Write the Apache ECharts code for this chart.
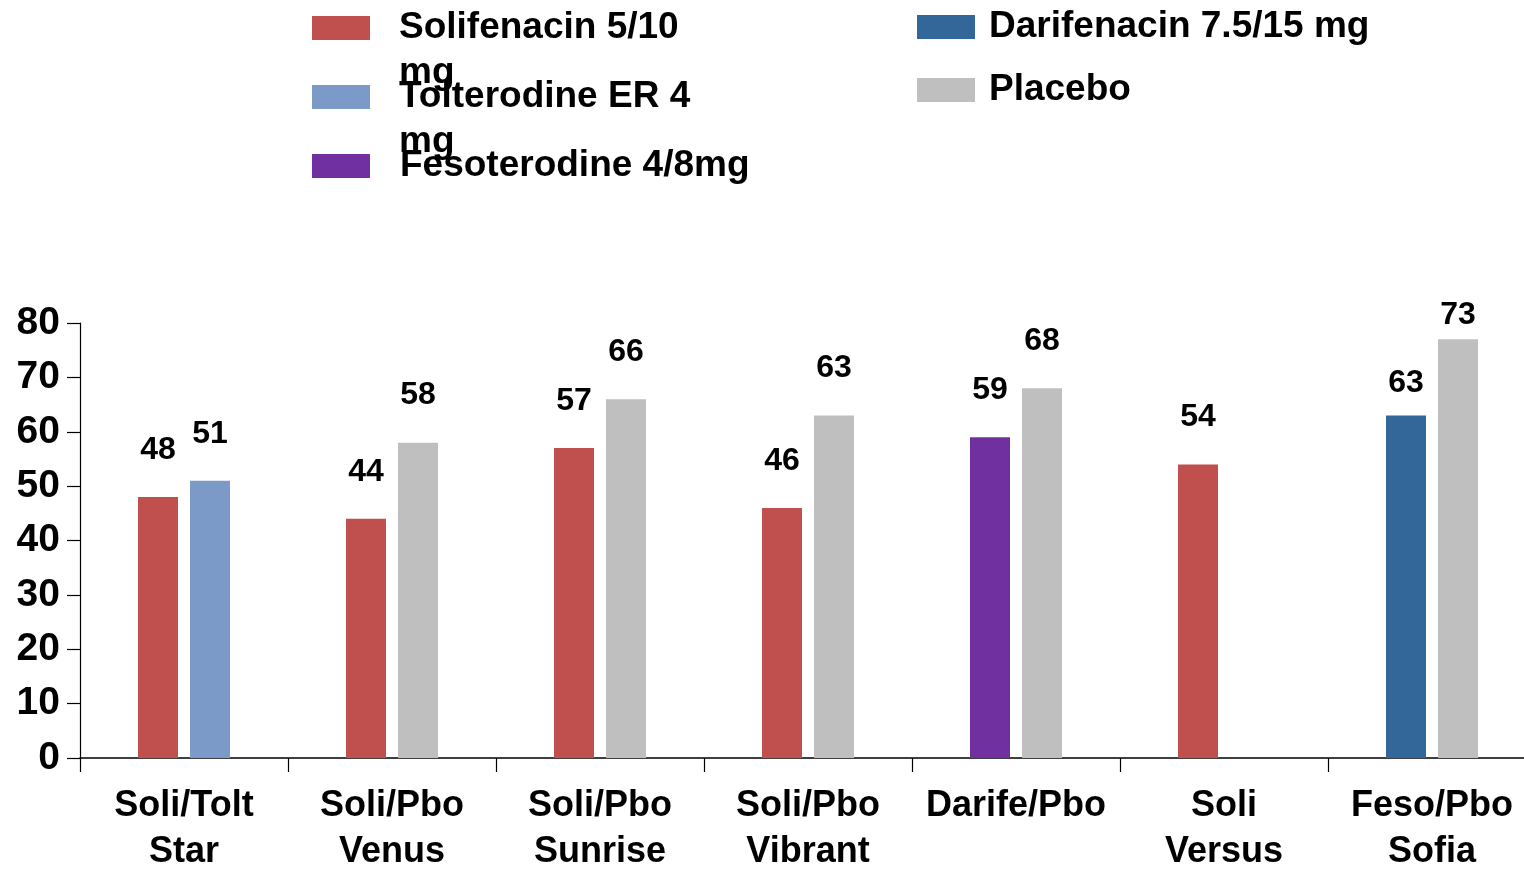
<!DOCTYPE html>
<html>
<head>
<meta charset="utf-8">
<script src="https://cdn.jsdelivr.net/npm/echarts@6/dist/echarts.min.js"></script>
<style>
html,body{margin:0;padding:0;background:#fff;}
#chart{width:1524px;height:871px;}
</style>
</head>
<body>
<div id="chart"></div>
<script>
// ---- data ----
const categories = ['Soli/Tolt\nStar', 'Soli/Pbo\nVenus', 'Soli/Pbo\nSunrise', 'Soli/Pbo\nVibrant', 'Darife/Pbo', 'Soli\nVersus', 'Feso/Pbo\nSofia'];
const drugNames = ['Solifenacin 5/10 mg', 'Tolterodine ER 4 mg', 'Fesoterodine 4/8mg', 'Darifenacin 7.5/15 mg', 'Placebo'];
const drugColors = ['#C0504D', '#7B9AC8', '#7030A0', '#336699', '#BFBFBF'];
const firstValues = [48, 44, 57, 46, 59, 54, 63];
const firstLabels = ['48', '44', '57', '46', '59', '54', '63'];
const firstDrugs = ['Solifenacin 5/10 mg', 'Solifenacin 5/10 mg', 'Solifenacin 5/10 mg', 'Solifenacin 5/10 mg', 'Fesoterodine 4/8mg', 'Solifenacin 5/10 mg', 'Darifenacin 7.5/15 mg'];
const secondValues = [51, 58, 66, 63, 68, null, 77];
const secondLabels = ['51', '58', '66', '63', '68', '', '73'];
const secondDrugs = ['Tolterodine ER 4 mg', 'Placebo', 'Placebo', 'Placebo', 'Placebo', null, 'Placebo'];
const yTicks = { min: 0, max: 80, interval: 10 };

// ---- styles ----
const FONT = 'Liberation Sans, Arial, sans-serif';
const firstLabelDistance = {6: 16};
const secondLabelDistance = {6: 8};
const colorOf = {};
drugNames.forEach((n, i) => colorOf[n] = drugColors[i]);

function buildData(values, drugs, labels, distOverride) {
  return values.map((v, i) => v == null ? '-' : {
    value: v,
    itemStyle: { color: colorOf[drugs[i]] },
    label: { formatter: labels[i], distance: distOverride[i] != null ? distOverride[i] : 31 }
  });
}

const LH = 45;
function legendFor(name, left, top, padLeft, twoLine) {
  return {
    data: [{ name: name, icon: 'rect' }],
    left: left, top: top, orient: 'vertical', padding: 0,
    itemWidth: 58, itemHeight: 24, selectedMode: false,
    formatter: twoLine ? (n => '\n' + n) : (n => n),
    textStyle: {
      fontFamily: FONT, fontSize: 37, fontWeight: 'bold', color: '#000',
      lineHeight: LH,
      width: twoLine ? 310 : 600, overflow: 'break',
      padding: [0, 0, 0, padLeft]
    }
  };
}

const legendSeries = drugNames.map((n, i) => ({
  name: n, type: 'line', data: [],
  itemStyle: { color: drugColors[i] }, lineStyle: { color: drugColors[i] }
}));

const chart = echarts.init(document.getElementById('chart'));
chart.setOption({
  animation: false,
  backgroundColor: '#fff',
  legend: [
    legendFor(drugNames[0], 312, -39.5, 24, true),
    legendFor(drugNames[1], 312, 29.5, 24, true),
    legendFor(drugNames[2], 312, 143.5, 25, false),
    legendFor(drugNames[3], 917, 4.5, 9, false),
    legendFor(drugNames[4], 917, 67.5, 9, false)
  ],
  grid: { left: 80, right: -12, top: 323, bottom: 113, containLabel: false, outerBoundsMode: 'none' },
  xAxis: {
    type: 'category', data: categories,
    axisLine: { show: true, lineStyle: { color: '#000', width: 1.5 } },
    axisTick: { show: true, length: 14, lineStyle: { color: '#000', width: 1.2 } },
    axisLabel: { interval: 0, fontFamily: FONT, fontSize: 36, fontWeight: 'bold', color: '#000', lineHeight: 46, margin: 25 },
    splitLine: { show: false }
  },
  yAxis: {
    type: 'value', min: yTicks.min, max: yTicks.max, interval: yTicks.interval,
    axisLine: { show: true, lineStyle: { color: '#000', width: 1.2 } },
    axisTick: { show: true, length: 13, inside: false, lineStyle: { color: '#000', width: 1.2 } },
    axisLabel: { fontFamily: FONT, fontSize: 39, fontWeight: 'bold', color: '#000', margin: 20 },
    splitLine: { show: false }
  },
  series: [
    {
      name: 'Treatment', type: 'bar', barWidth: 40, barGap: '30%',
      data: buildData(firstValues, firstDrugs, firstLabels, firstLabelDistance),
      label: { show: true, position: 'top', fontFamily: FONT, fontSize: 32, fontWeight: 'bold', color: '#000' }
    },
    {
      name: 'Comparator', type: 'bar', barWidth: 40, barGap: '30%',
      data: buildData(secondValues, secondDrugs, secondLabels, secondLabelDistance),
      label: { show: true, position: 'top', fontFamily: FONT, fontSize: 32, fontWeight: 'bold', color: '#000' }
    }
  ].concat(legendSeries)
});
</script>
</body>
</html>
